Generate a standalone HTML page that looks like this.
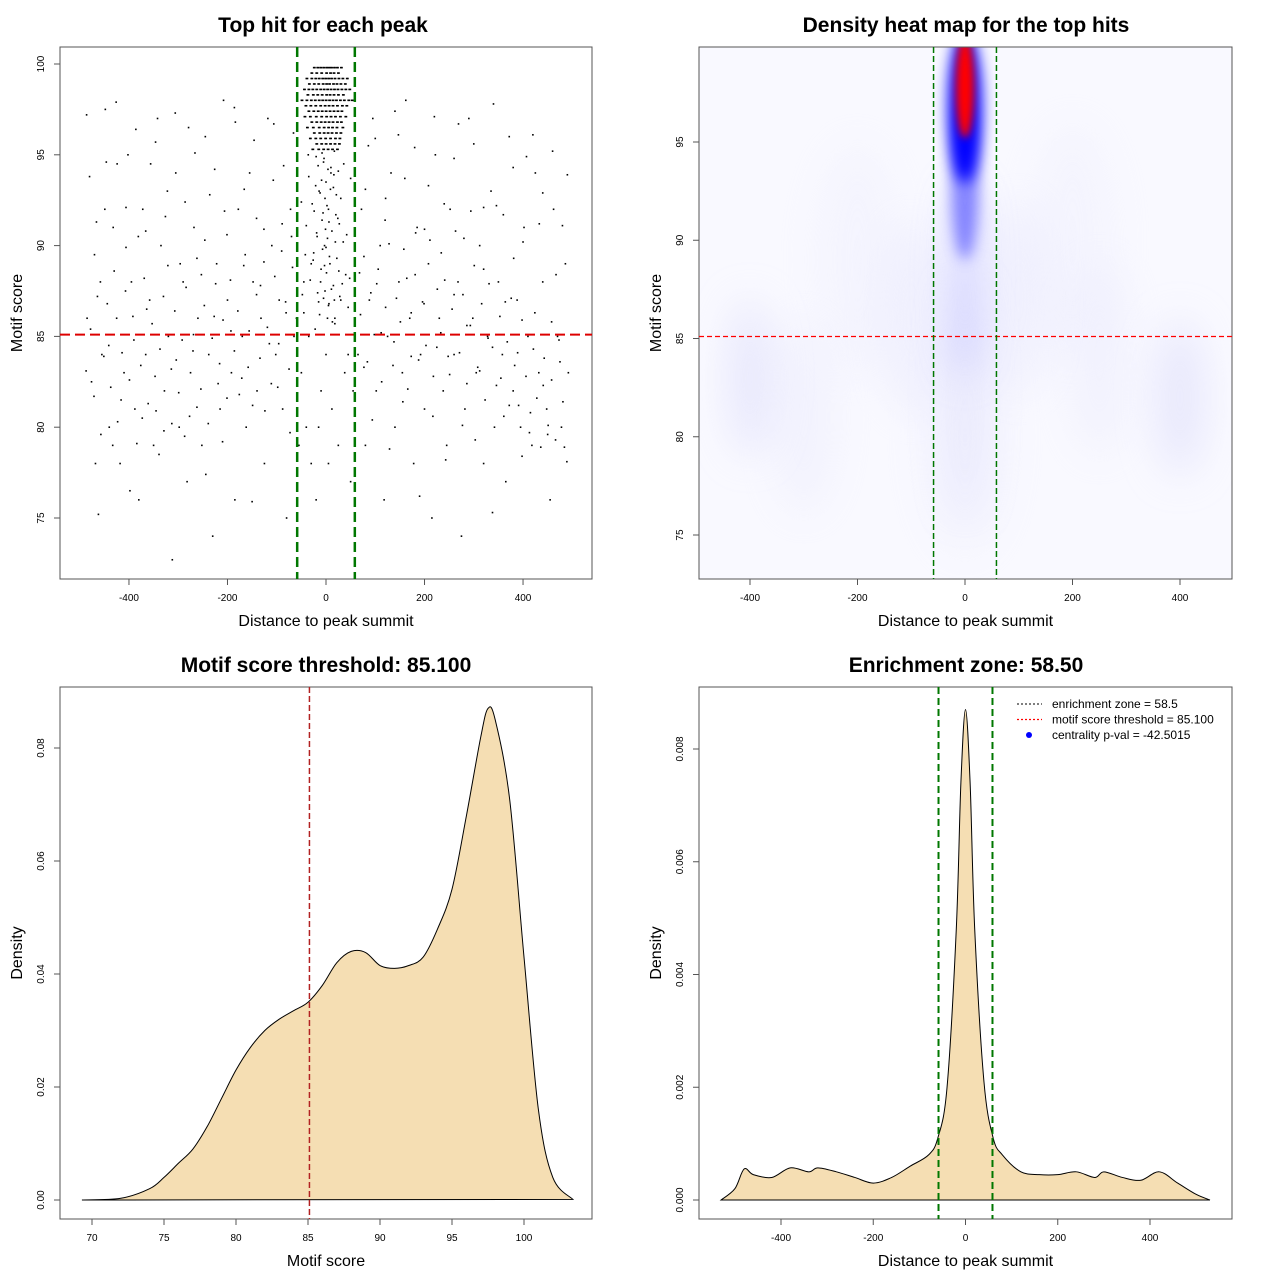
<!DOCTYPE html>
<html><head><meta charset="utf-8"><style>
html,body{margin:0;padding:0;background:#fff}
svg{display:block;font-family:"Liberation Sans",sans-serif}
</style></head><body>
<svg id="root" width="1280" height="1280" viewBox="0 0 1280 1280" xmlns="http://www.w3.org/2000/svg">
<defs>
<filter id="blurR" filterUnits="userSpaceOnUse" x="600" y="0" width="700" height="650"><feGaussianBlur stdDeviation="4"/></filter>
<filter id="blurS" filterUnits="userSpaceOnUse" x="600" y="0" width="700" height="650"><feGaussianBlur stdDeviation="7"/></filter>
<filter id="blurL" filterUnits="userSpaceOnUse" x="600" y="0" width="700" height="650"><feGaussianBlur stdDeviation="20"/></filter>
<clipPath id="clip2"><rect x="699" y="47" width="533" height="532"/></clipPath>
</defs>
<text x="323" y="32" text-anchor="middle" font-size="21" font-weight="bold">Top hit for each peak</text>
<text x="966" y="32" text-anchor="middle" font-size="21" font-weight="bold">Density heat map for the top hits</text>
<text x="326" y="672" text-anchor="middle" font-size="21" font-weight="bold">Motif score threshold: 85.100</text>
<text x="966" y="672" text-anchor="middle" font-size="21" font-weight="bold">Enrichment zone: 58.50</text>
<g id="p1"></g>
<g id="p2"></g>
<g id="p3"></g>
<g id="p4"></g>
</svg>
<script>
// ---- data ----
const bgPointsStr = "-480,93.8 -470,89.5 -462,75.2 -455,84 -448,97.5 -440,80 -432,91 -425,86 -418,78 -410,83 -402,95 -395,88 -388,81 -380,76 -372,92 -366,84 -358,87 -350,79 -342,97 -335,90 -328,82 -320,85 -312,72.7 -305,94 -298,80 -290,88 -282,77 -275,83 -268,91 -260,86 -252,79 -245,96 -238,84 -230,74 -222,89 -215,81 -208,98 -200,87 -192,83 -185,76 -178,92 -170,85 -162,80 -155,94 -148,88 -140,82 -132,86 -125,78 -118,97 -110,90 -102,84 -95,87 -88,81 -80,75 -72,92 -65,85 -485,86 -476,82.5 -468,78 -458,88 -449,92 -441,84.5 -433,79 -424,94.5 -416,81.5 -407,87.5 -398,76.5 -390,84.8 -381,90.5 -373,80.5 -364,86.5 -356,94.5 -347,82.8 -339,78.5 -330,87.2 -322,93 -313,80.2 -304,83.7 -296,89 -287,79.5 -279,96.5 -270,84.2 -262,81.1 -253,88.4 -244,77.4 -236,92.8 -227,86.1 -219,82.4 -210,79.2 -201,90.6 -193,85.3 -184,96.8 -176,81.8 -167,88.9 -158,83.3 -150,75.9 -141,91.5 -133,87.8 -124,80.9 -115,84.6 -107,93.6 -98,82.2 -90,89.7 -81,86.3 -73,79.7 -66,96.2 65,84 72,92 80,79 88,87 95,97 102,82 110,90 118,76 125,85 132,94 140,80 148,88 155,83 162,98 170,86 178,78 185,91 192,84 200,81 208,89 215,75 222,95 230,86 238,82 245,79 252,92 260,84 268,88 275,74 282,81 290,97 298,86 305,83 312,90 320,78 328,85 335,93 342,80 350,88 358,84 365,77 372,96 380,82 388,87 395,80 402,91 410,85 418,79 425,94 432,83 440,88 448,81 455,76 462,92 470,85 478,80 486,89 492,83 68,88.5 77,83.3 86,95.5 94,80.4 103,87.9 112,85.2 121,92.6 129,78.8 138,84.7 147,96.1 156,81.4 164,88.2 173,83.9 182,90.7 190,76.2 199,86.8 208,93.3 217,80.6 225,84.4 234,89.6 243,78.2 251,82.9 260,87.3 269,96.7 277,80.1 286,85.6 294,91.9 303,79.3 312,83.1 320,88.7 329,84.9 338,75.3 346,92.2 355,82.7 364,86.9 372,81.2 381,89.3 389,84.1 398,78.4 407,94.9 415,80.8 424,86.3 433,91.2 441,82.3 450,79.6 458,85.8 467,88.4 475,83.6 484,78.9 490,93.9 -60,86 -50,83 -40,80 -30,78 -20,76 -10,82 0,84 12,81 25,79 38,83 50,77 -45,88 -35,85 -15,80 5,78 18,86 30,87 45,84 55,82 -55,79";
const bgPointsStr2 = "-487,83.1 -478,85.4 -471,81.7 -464,87.2 -457,79.6 -451,83.9 -444,86.8 -437,82.2 -430,88.6 -423,80.3 -414,84.1 -406,89.9 -399,82.6 -392,86.1 -384,79.1 -376,83.4 -369,88.2 -361,81.3 -353,85.7 -345,80.9 -337,84.3 -329,79.8 -321,88.9 -314,83.2 -307,86.4 -299,81.9 -292,84.8 -284,87.7 -277,80.6 -269,85.1 -262,89.3 -254,82.1 -247,86.7 -239,80.2 -231,84.9 -224,87.9 -216,83.5 -209,85.9 -201,81.6 -194,88.1 -186,84.2 -179,86.4 -171,82.7 -164,89.5 -156,85.3 -149,81.2 -141,87.3 -134,83.8 -126,89.1 -119,85.5 -111,82.4 -104,88.3 -96,84.6 -89,91.2 -82,86.9 -75,83.2 -68,88.8 70,86.2 77,89.4 84,83.6 91,87.4 98,85.1 106,88.7 113,82.5 121,86.6 128,90.1 136,83.4 143,87.1 151,85.8 158,89.8 166,82.1 173,86.3 181,88.4 188,83.7 196,86.9 203,84.5 211,90.3 218,82.8 226,87.6 233,85.2 241,88.1 248,83.9 256,86.5 263,90.8 271,84.1 278,87.3 286,82.4 293,85.6 301,88.9 308,83.3 316,86.8 323,81.5 331,87.9 338,84.4 346,82.3 353,86.1 361,80.6 368,84.7 376,87.1 383,83.4 391,81.2 398,85.9 406,82.8 413,79.7 421,84.3 428,81.6 436,78.9 443,83.8 451,80.1 458,82.6 466,79.3 473,84.8 481,81.4 489,78.1 -486,97.2 -466,91.3 -446,94.6 -426,97.9 -406,92.1 -386,96.4 -366,90.8 -346,95.7 -326,91.6 -306,97.3 -286,92.4 -266,95.1 -246,90.3 -226,94.2 -206,91.9 -186,97.6 -166,93.1 -146,95.8 -126,90.9 -106,96.7 -86,94.4 -70,90.5 80,93.1 100,95.9 120,91.4 140,97.4 160,93.7 180,95.4 200,90.9 220,97.1 240,92.3 260,94.8 280,90.4 300,95.6 320,92.1 340,97.8 360,91.7 380,94.3 400,90.2 420,96.1 440,92.9 460,95.2 480,91.1";
const rowScores = [99.8,99.5,99.2,98.9,98.6,98.3,98.0,97.7,97.4,97.1,96.8,96.5,96.2,95.9,95.6,95.3];
const rowXs = ["-25,-18,-12,-6,0,5,10,16,22,30","-30,-20,-10,0,8,15,24","-40,-30,-22,-15,-8,-2,4,10,17,25,33,42","-35,-25,-16,-7,0,6,14,21,29,38","-45,-36,-28,-20,-12,-5,2,9,16,23,31,39,47","-38,-27,-18,-9,0,7,15,24,34","-50,-40,-31,-23,-15,-8,-1,6,13,20,28,36,45,52","-42,-32,-22,-12,-3,5,13,22,32,41","-36,-26,-17,-9,-1,7,15,23,31","-44,-33,-21,-10,0,9,18,28,39","-30,-20,-11,-3,5,13,22,30","-39,-27,-15,-5,4,12,21,33","-25,-14,-5,3,11,20,29","-33,-22,-12,-2,8,18,27","-20,-10,-1,8,17,26","-28,-16,-6,3,12,22"];
const midPointsStr = "-20,94.9 -5,94.6 10,94.3 25,94.1 -35,93.8 0,93.5 15,93.2 -12,92.9 30,92.6 -28,92.3 5,92.0 20,91.7 -8,91.4 -40,91.1 12,90.8 -18,90.5 35,90.2 0,89.9 -25,89.6 22,89.3 8,89.0 -10,88.7 40,88.4 -32,88.1 15,87.8 -2,87.5 28,87.2 -15,86.9 45,86.6 -45,86.3 3,86.0 18,85.7 -22,85.4 10,94.0 -14,93.0 27,91.2 -3,90.0 -30,89.0 33,87.9 6,86.8 -50,92.4 50,93.7 -8,95.1 17,95.2 -4,94.8 4,94.2 -9,93.6 9,93.1 -2,92.6 2,92.2 -6,91.8 6,91.3 -1,90.9 3,90.4 -7,89.8 7,89.4 -3,88.9 1,88.5 -11,88.0 11,87.6 -5,87.1 5,86.7 -13,86.2 13,85.8 -16,94.4 16,93.9 -21,93.3 21,92.8 -24,91.9 24,91.5 -19,90.7 19,90.2 -26,89.2 26,88.6 -17,87.4 17,87.0 -36,95.0 36,94.5 -42,89.5 42,90.6 -48,87.3 48,88.2";
// heatmap blobs
const hmX = [0, 0, 0, 0, 0, -400, 400, -100, 100, -300, 250, 0, -200, 200];
const hmY = [97.8, 96.8, 93, 88, 82, 83, 82, 86, 87, 81, 84, 80, 89, 90];
const hmRx = [17, 32, 26, 24, 25, 40, 45, 60, 60, 60, 60, 80, 80, 80];
const hmRy = [2.6, 3.9, 4, 5, 6, 4, 4, 5, 5, 5, 5, 6, 6, 6];
const hmCol = ["#ff0000","#0000ff","#6a6aff","#b0b0ff","#d8d8fb","#dcdcfa","#dcdcfa","#e4e4fc","#e4e4fc","#e8e8fc","#e8e8fc","#eaeafc","#ececfd","#ececfd"];
const hmOp = [1, 1, 0.8, 0.6, 0.5, 0.6, 0.6, 0.4, 0.4, 0.4, 0.4, 0.4, 0.35, 0.35];
// score density
const scoreX = [69.3,72,74,75,76,77,78,79,80,81,82,83,84,85,86,87,88,89,90,91,92,93,94,95,96,97,97.5,98,99,100,101,102,103.4];
const scoreD = [0,0.0003,0.002,0.004,0.0065,0.009,0.013,0.018,0.023,0.027,0.030,0.032,0.0335,0.035,0.038,0.042,0.044,0.0438,0.0415,0.041,0.0415,0.043,0.048,0.055,0.068,0.082,0.087,0.085,0.071,0.043,0.016,0.004,0.0001];
// distance density
const distX = [-530,-500,-480,-460,-420,-380,-340,-320,-280,-240,-200,-160,-120,-80,-60,-40,-20,-10,0,10,20,40,60,80,120,160,200,240,280,300,340,380,420,460,500,530];
const distD = [0,0.0002,0.00055,0.00045,0.0004,0.00057,0.0005,0.00057,0.0005,0.0004,0.0003,0.0004,0.0006,0.0008,0.0011,0.002,0.0048,0.0074,0.0087,0.0074,0.0048,0.0021,0.0011,0.0008,0.0005,0.00045,0.00045,0.0005,0.0004,0.0005,0.0004,0.00035,0.0005,0.0003,0.0001,0];

const NS="http://www.w3.org/2000/svg";
function mk(parent,tag,attrs){const e=document.createElementNS(NS,tag);for(const k in attrs)e.setAttribute(k,attrs[k]);parent.appendChild(e);return e;}
function lin(d0,d1,p0,p1){return v=>p0+(v-d0)*(p1-p0)/(d1-d0);}

function frame(g,x0,y0,x1,y1,sx,sy,xt,yt,xlab,ylab,fmtY){
  const r=mk(g,'rect',{x:x0,y:y0,width:x1-x0,height:y1-y0,fill:'none',stroke:'#555','stroke-width':1});
  
  
  xt.forEach(v=>{const X=sx(v);mk(g,'line',{x1:X,y1:y1,x2:X,y2:y1+6,stroke:'#555'});
    const t=mk(g,'text',{x:X,y:y1+22,'text-anchor':'middle','font-size':10});t.textContent=v;
    
    });
  yt.forEach(v=>{const Y=sy(v);mk(g,'line',{x1:x0-6,y1:Y,x2:x0,y2:Y,stroke:'#555'});
    const t=mk(g,'text',{x:0,y:0,'text-anchor':'middle','font-size':10,transform:`translate(${x0-16},${Y}) rotate(-90)`});t.textContent=fmtY?fmtY(v):v;
    
    });
  const xl=mk(g,'text',{x:(x0+x1)/2,y:y1+47,'text-anchor':'middle','font-size':16});xl.textContent=xlab;
  
  
  const yl=mk(g,'text',{x:0,y:0,'text-anchor':'middle','font-size':16,transform:`translate(${x0-38},${(y0+y1)/2}) rotate(-90)`});yl.textContent=ylab;
  
  
}

// Panel 1
(function(){
  const g=document.getElementById('p1');
  const sx=lin(-540,540,60,592), sy=lin(100,75,64,518);
  const pts=mk(g,'g',{fill:'#000'});
  
  
  const dot=(x,y)=>{mk(pts,'rect',{x:sx(x)-0.8,y:sy(y)-0.8,width:1.6,height:1.6});};
  (bgPointsStr+' '+bgPointsStr2).split(' ').forEach(p=>{const [x,y]=p.split(',').map(Number);dot(x,y);});
  midPointsStr.split(' ').forEach(p=>{const [x,y]=p.split(',').map(Number);dot(x,y);});
  rowScores.forEach((s,i)=>rowXs[i].split(',').map(Number).forEach(x=>{dot(x,s);dot(x+2.5,s);}));
  frame(g,60,47,592,579,sx,sy,[-400,-200,0,200,400],[75,80,85,90,95,100],'Distance to peak summit','Motif score');
  const h=mk(g,'line',{x1:60,x2:592,y1:sy(85.1),y2:sy(85.1),stroke:'#dd0000','stroke-width':2,'stroke-dasharray':'10,5'});
  
  
  [-58.5,58.5].forEach(v=>{const l=mk(g,'line',{x1:sx(v),x2:sx(v),y1:47,y2:579,stroke:'#007700','stroke-width':2.5,'stroke-dasharray':'10,5'});
    
    });
})();

// Panel 2
(function(){
  const g=document.getElementById('p2');
  const sx=lin(-400,400,750,1180), sy=lin(95,75,142,535);
  const hm=mk(g,'g',{'clip-path':'url(#clip2)'});
  
  
  mk(hm,'rect',{x:699,y:47,width:533,height:532,fill:'#f9f9ff'});
  const kx=Math.abs(sx(1)-sx(0)), ky=Math.abs(sy(1)-sy(0));
  for(let i=hmX.length-1;i>=0;i--){
    const f=i===0?'url(#blurR)':(i<3?'url(#blurS)':'url(#blurL)');
    mk(hm,'ellipse',{cx:sx(hmX[i]),cy:sy(hmY[i]),rx:hmRx[i]*kx,ry:hmRy[i]*ky,fill:hmCol[i],opacity:hmOp[i],filter:f});
  }
  frame(g,699,47,1232,579,sx,sy,[-400,-200,0,200,400],[75,80,85,90,95],'Distance to peak summit','Motif score');
  const h=mk(g,'line',{x1:699,x2:1232,y1:sy(85.1),y2:sy(85.1),stroke:'#ff0000','stroke-width':1.2,'stroke-dasharray':'5,3'});
  
  
  [-58.5,58.5].forEach(v=>{const l=mk(g,'line',{x1:sx(v),x2:sx(v),y1:47,y2:579,stroke:'#007700','stroke-width':1.5,'stroke-dasharray':'6,3'});
    
    });
})();

function smoothPath(xs,ys,sx,sy){
  const P=xs.map((x,i)=>[sx(x),sy(ys[i])]);
  let d=`M${P[0][0]},${P[0][1]}`;
  for(let i=0;i<P.length-1;i++){
    const p0=P[Math.max(0,i-1)],p1=P[i],p2=P[i+1],p3=P[Math.min(P.length-1,i+2)];
    const c1=[p1[0]+(p2[0]-p0[0])/6,p1[1]+(p2[1]-p0[1])/6],c2=[p2[0]-(p3[0]-p1[0])/6,p2[1]-(p3[1]-p1[1])/6];
    d+=` C${c1[0]},${c1[1]} ${c2[0]},${c2[1]} ${p2[0]},${p2[1]}`;
  }
  return d;
}

// Panel 3
(function(){
  const g=document.getElementById('p3');
  const sx=lin(70,100,92,524), sy=lin(0,0.08,1200,748);
  const d=smoothPath(scoreX,scoreD,sx,sy)+' Z';
  const a=mk(g,'path',{d:d,fill:'#f5deb3',stroke:'#000','stroke-width':1});
  
  
  frame(g,60,687,592,1219,sx,sy,[70,75,80,85,90,95,100],[0,0.02,0.04,0.06,0.08],'Motif score','Density',v=>v.toFixed(2));
  const l=mk(g,'line',{x1:sx(85.1),x2:sx(85.1),y1:687,y2:1219,stroke:'#b22222','stroke-width':1.5,'stroke-dasharray':'6,3'});
  
  
})();

// Panel 4
(function(){
  const g=document.getElementById('p4');
  const sx=lin(-400,400,781,1150), sy=lin(0,0.008,1200,749);
  const d=smoothPath(distX,distD,sx,sy)+' Z';
  const a=mk(g,'path',{d:d,fill:'#f5deb3',stroke:'#000','stroke-width':1});
  
  
  frame(g,699,687,1232,1219,sx,sy,[-400,-200,0,200,400],[0,0.002,0.004,0.006,0.008],'Distance to peak summit','Density',v=>v.toFixed(3));
  [-58.5,58.5].forEach(v=>{const l=mk(g,'line',{x1:sx(v),x2:sx(v),y1:687,y2:1219,stroke:'#007700','stroke-width':2,'stroke-dasharray':'7,4'});
    
    });
  const lg=mk(g,'g',{'font-size':12});
  
  
  const items=[['enrichment zone = 58.5','#333333','line'],['motif score threshold = 85.100','#ff0000','line'],['centrality p-val = -42.5015','#0000ff','dot']];
  items.forEach((it,i)=>{const y=704+i*15.5;
    const e=mk(lg,'g',{});
    
    
    if(it[2]==='line'){const ln=mk(e,'line',{x1:1017,x2:1042,y1:y,y2:y,'stroke-dasharray':'2,2','stroke-width':1.2});ln.style.stroke=it[1];}
    else mk(e,'circle',{cx:1029,cy:y,r:3,fill:it[1]});
    const t=mk(e,'text',{x:1052,y:y+4});t.textContent=it[0];});
})();
</script>
</body></html>
